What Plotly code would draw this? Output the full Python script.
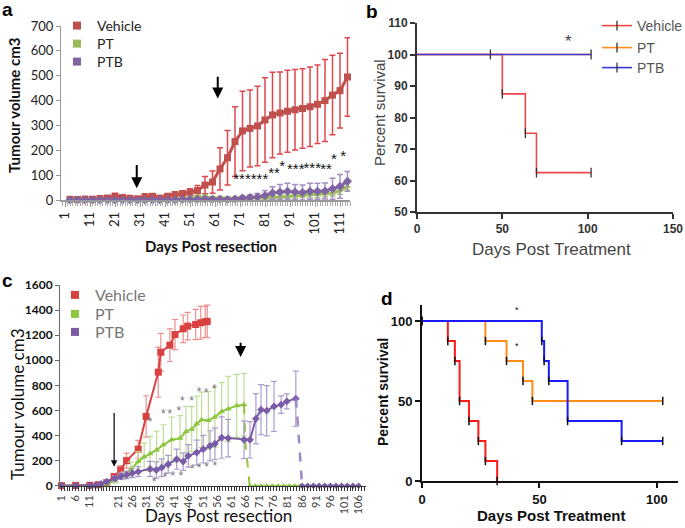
import plotly.graph_objects as go

W, H = 685, 528
def fx(px): return px / W
def fy(py): return 1 - py / H

# ---------------- Panel a data ----------------
a_days = [3, 6, 9, 12, 15, 18, 21, 24, 27, 30, 33, 36, 39, 42, 45, 48, 51, 54, 57, 60,
          63, 66, 69, 72, 75, 78, 81, 84, 87, 90, 93, 96, 99, 102, 105, 108, 111, 114]
a_vehicle = [3, 2, 4, 3, 6, 8, 16, 10, 7, 5, 14, 15, 8, 15, 22, 25, 30, 38, 60, 72,
             125, 170, 235, 278, 288, 298, 322, 342, 350, 357, 363, 368, 375, 385, 400, 422, 440, 495]
a_vehicle_err = [3, 3, 4, 4, 5, 6, 8, 6, 5, 4, 6, 6, 5, 8, 10, 12, 15, 20, 35, 45,
                 85, 110, 140, 160, 155, 160, 170, 172, 165, 165, 162, 160, 160, 158, 165, 160, 150, 158]
a_pt = [0, 0, 0, 0, 0, 0, 0, 0, 0, 0, 0, 0, 0, 0, 2, 5, 8, 12, 12, 8,
        8, 6, 5, 8, 8, 10, 8, 10, 12, 15, 18, 20, 22, 22, 25, 28, 38, 55]
a_pt_err = [1, 1, 1, 1, 1, 1, 1, 1, 1, 1, 1, 1, 1, 1, 3, 5, 6, 8, 8, 6,
            6, 5, 5, 6, 6, 8, 6, 8, 8, 10, 10, 10, 12, 12, 12, 12, 15, 15]
a_ptb = [0, 0, 0, 0, 0, 0, 0, 0, 0, 0, 0, 0, 0, 0, 0, 2, 3, 3, 4, 3,
         3, 2, 4, 8, 10, 12, 18, 28, 32, 35, 32, 30, 35, 35, 36, 45, 55, 75]
a_ptb_err = [1, 1, 1, 1, 1, 1, 1, 1, 1, 1, 1, 1, 1, 1, 1, 2, 3, 3, 4, 3,
             3, 3, 5, 8, 10, 14, 20, 25, 30, 32, 30, 30, 32, 32, 32, 42, 48, 40]
# significance marks (groups of asterisks) in panel a
a_star_text = ["******", "**", "*", "***", "***", "**", "*", "*", "*"]
a_star_x = [75.3, 84.6, 87.9, 93.3, 99.9, 105.4, 108.6, 112.3, 115.7]
a_star_y = [80, 103, 133, 119, 123, 118, 160, 173, 217]
a_arrow_x = [29.7, 62.1]
a_arrow_tail = [147, 502]
a_arrow_tip = [47, 408]
a_xticks = [1, 11, 21, 31, 41, 51, 61, 71, 81, 91, 101, 111]

# ---------------- Panel b data ----------------
b_vehicle_t = [0, 50, 63.5, 70, 102]
b_vehicle_s = [100, 87.5, 75, 62.5, 62.5]
b_pt_t = [0, 102]
b_pt_s = [100, 100]
b_ptb_t = [0, 102]
b_ptb_s = [100, 100]
b_vehicle_mark_t = [50, 63.5, 70, 102]
b_vehicle_mark_s = [87.5, 75, 62.5, 62.5]
b_ptb_mark_t = [43, 102]
b_ptb_mark_s = [100, 100]

# ---------------- Panel c data ----------------
c_vehicle_days = [1, 6, 11, 14, 17, 19.6, 21.9, 24, 28.1, 30.9, 35.2, 36.1, 39.3, 41.1,
                  44, 45.6, 48.4, 50.2, 51.8, 52.5]
c_vehicle = [0, 2, 3, 8, 25, 72, 126, 200, 291, 552, 905, 1064, 1120, 1205,
             1251, 1272, 1285, 1299, 1307, 1310]
c_vehicle_err = [0, 2, 3, 5, 10, 25, 35, 60, 70, 165, 200, 150, 130, 120,
                 110, 110, 120, 130, 125, 130]
c_pt_days = [1, 6, 11, 14, 17, 20, 22.8, 25.5, 28.1, 30.2, 32.3, 34.6, 37, 39.9, 42.9,
             45, 47, 48.8, 50.5, 52.9, 55.2, 57.6, 59.9, 62.9, 65.5]
c_pt = [0, 0, 0, 0, 15, 40, 78, 130, 192, 230, 254, 285, 326, 366, 379,
        432, 451, 494, 526, 520, 547, 592, 611, 638, 646]
c_pt_err = [0, 0, 0, 2, 10, 20, 30, 60, 80, 110, 140, 150, 160, 180, 180,
            200, 180, 220, 220, 230, 240, 230, 260, 250, 250]
c_pt_drop_days = [65.5, 66, 67.5]
c_pt_drop = [646, 340, 0]
c_pt_zero_days = [67.5, 69.5, 71.5, 73.5, 75.5, 77.5, 79.5, 81.5, 83.5, 85.5]
c_pt_zero = [0, 0, 0, 0, 0, 0, 0, 0, 0, 0]
c_ptb_days = [1, 6, 11, 13, 15, 17, 19.9, 22, 24, 26, 28.1, 32.3, 34.5, 36.4, 38.7, 41.7,
              44, 45.8, 48.8, 51.1, 53.5, 55.2, 57.6, 59.9, 65.5, 67.6, 69.7, 71.5, 73.5,
              76.1, 78.6, 80.6, 83.8]
c_ptb = [0, 0, 0, 3, 15, 32, 59, 75, 86, 100, 112, 134, 125, 144, 171, 211,
         192, 238, 264, 291, 318, 334, 384, 379, 366, 366, 534, 606, 598,
         632, 646, 672, 694]
c_ptb_err = [0, 0, 0, 3, 8, 12, 20, 25, 30, 35, 40, 60, 65, 70, 70, 80,
             70, 90, 100, 110, 120, 125, 165, 150, 150, 145, 200, 200, 200,
             200, 70, 60, 220]
c_ptb_drop_days = [83.8, 84.6, 86]
c_ptb_drop = [694, 470, 0]
c_ptb_zero_days = [86, 88, 90, 92, 94, 96, 98, 100, 102, 104, 106]
c_ptb_zero = [0, 0, 0, 0, 0, 0, 0, 0, 0, 0, 0]
c_star_hi_x = [32.3, 37, 39.3, 42.5, 43.7, 47, 49.6, 52.1, 55]
c_star_hi_y = [499, 560, 560, 584, 664, 664, 739, 734, 760]
c_star_lo_x = [33.7, 37.6, 40.3, 43.2, 47.2, 49.6, 52.3, 55.2]
c_star_lo_y = [19, 59, 72, 72, 126, 134, 139, 152]
c_xticks = [1, 6, 11, 21, 26, 31, 36, 41, 46, 51, 56, 61, 66, 71, 76, 81, 86, 91, 96, 101, 106]

# ---------------- Panel d data ----------------
d_vehicle_t = [0, 11, 14, 16, 20, 24, 27, 32]
d_vehicle_s = [100, 87.5, 75, 50, 37.5, 25, 12.5, 0]
d_pt_t = [0, 27, 36, 43, 47, 102.5]
d_pt_s = [100, 87.5, 75, 62.5, 50, 50]
d_ptb_t = [0, 51, 52, 54, 62, 85, 102.5]
d_ptb_s = [100, 87.5, 75, 62.5, 37.5, 25, 25]

series_names = ["Vehicle", "PT", "PTB"]

# ---------------- colours ----------------
RED_A, GREEN_A, PURPLE_A = "#C0504D", "#9BBB59", "#8064A2"
RED_AE, GREEN_AE, PURPLE_AE = "#E0474C", "#A9CB6E", "#A48FC4"
RED_C, GREEN_C, PURPLE_C = "#D8413F", "#8DC63F", "#7A5BA8"
RED_CE, GREEN_CE, PURPLE_CE = "#EE8F8F", "#BEDC95", "#AC9BD0"
RED_B, ORANGE_B, BLUE_B = "#F04848", "#FF8C1A", "#3A3AD8"

EXCEL = "Lato"
ARIAL = "Liberation Sans"

fig = go.Figure()

def err(arr, color, width=3, thick=1.5):
    return dict(type="data", array=arr, visible=True, color=color, thickness=thick, width=width)

# ---- Panel a traces
fig.add_trace(go.Scatter(x=a_days, y=a_vehicle, mode="lines+markers", xaxis="x", yaxis="y",
                         line=dict(color=RED_A, width=3), marker=dict(symbol="square", size=7, color=RED_A),
                         error_y=err(a_vehicle_err, RED_AE), showlegend=False, cliponaxis=False))
fig.add_trace(go.Scatter(x=a_days, y=a_pt, mode="lines+markers", xaxis="x", yaxis="y",
                         line=dict(color=GREEN_A, width=3), marker=dict(symbol="triangle-up", size=6, color=GREEN_A),
                         error_y=err(a_pt_err, GREEN_AE), showlegend=False, cliponaxis=False))
fig.add_trace(go.Scatter(x=a_days, y=a_ptb, mode="lines+markers", xaxis="x", yaxis="y",
                         line=dict(color=PURPLE_A, width=3), marker=dict(symbol="diamond", size=7, color=PURPLE_A),
                         error_y=err(a_ptb_err, PURPLE_AE), showlegend=False, cliponaxis=False))
fig.add_trace(go.Scatter(x=a_star_x, y=a_star_y, mode="text", text=a_star_text, xaxis="x", yaxis="y",
                         textfont=dict(family=ARIAL, size=15, color="#111"), textposition="middle center",
                         showlegend=False, cliponaxis=False, hoverinfo="skip"))

# ---- Panel b traces
fig.add_trace(go.Scatter(x=b_vehicle_t, y=b_vehicle_s, mode="lines", line_shape="hv", xaxis="x2", yaxis="y2",
                         line=dict(color=RED_B, width=1.6), showlegend=False))
fig.add_trace(go.Scatter(x=b_vehicle_mark_t, y=b_vehicle_mark_s, mode="markers", xaxis="x2", yaxis="y2",
                         marker=dict(symbol="line-ns", size=7, line=dict(color="#333", width=1.3)), showlegend=False))
fig.add_trace(go.Scatter(x=b_pt_t, y=b_pt_s, mode="lines", line_shape="hv", xaxis="x2", yaxis="y2",
                         line=dict(color=ORANGE_B, width=1.6), showlegend=False))
fig.add_trace(go.Scatter(x=b_ptb_t, y=b_ptb_s, mode="lines", line_shape="hv", xaxis="x2", yaxis="y2",
                         line=dict(color=BLUE_B, width=1.6), showlegend=False))
fig.add_trace(go.Scatter(x=b_ptb_mark_t, y=b_ptb_mark_s, mode="markers", xaxis="x2", yaxis="y2",
                         marker=dict(symbol="line-ns", size=7, line=dict(color="#333", width=1.3)), showlegend=False))

# ---- Panel c traces
fig.add_trace(go.Scatter(x=c_vehicle_days, y=c_vehicle, mode="lines+markers", xaxis="x3", yaxis="y3",
                         line=dict(color=RED_C, width=2), marker=dict(symbol="square", size=7, color=RED_C),
                         error_y=err(c_vehicle_err, RED_CE, 3, 1.2), showlegend=False, cliponaxis=False))
fig.add_trace(go.Scatter(x=c_pt_days, y=c_pt, mode="lines+markers", xaxis="x3", yaxis="y3",
                         line=dict(color=GREEN_C, width=2), marker=dict(symbol="triangle-up", size=6, color=GREEN_C),
                         error_y=err(c_pt_err, GREEN_CE, 3, 1.2), showlegend=False, cliponaxis=False))
fig.add_trace(go.Scatter(x=c_pt_drop_days, y=c_pt_drop, mode="lines", xaxis="x3", yaxis="y3",
                         line=dict(color=GREEN_C, width=2, dash="dash"), showlegend=False))
fig.add_trace(go.Scatter(x=c_pt_zero_days, y=c_pt_zero, mode="lines+markers", xaxis="x3", yaxis="y3",
                         line=dict(color=GREEN_C, width=2), marker=dict(symbol="triangle-up", size=5, color=GREEN_C),
                         showlegend=False, cliponaxis=False))
fig.add_trace(go.Scatter(x=c_ptb_days, y=c_ptb, mode="lines+markers", xaxis="x3", yaxis="y3",
                         line=dict(color=PURPLE_C, width=2), marker=dict(symbol="diamond", size=6, color=PURPLE_C),
                         error_y=err(c_ptb_err, PURPLE_CE, 3, 1.2), showlegend=False, cliponaxis=False))
fig.add_trace(go.Scatter(x=c_ptb_drop_days, y=c_ptb_drop, mode="lines", xaxis="x3", yaxis="y3",
                         line=dict(color="#9C88C8", width=2.5, dash="dash"), showlegend=False))
fig.add_trace(go.Scatter(x=c_ptb_zero_days, y=c_ptb_zero, mode="lines+markers", xaxis="x3", yaxis="y3",
                         line=dict(color=PURPLE_C, width=2), marker=dict(symbol="diamond", size=5, color=PURPLE_C),
                         showlegend=False, cliponaxis=False))
fig.add_trace(go.Scatter(x=c_star_hi_x + c_star_lo_x, y=c_star_hi_y + c_star_lo_y, mode="text",
                         text=["*"] * (len(c_star_hi_x) + len(c_star_lo_x)), xaxis="x3", yaxis="y3",
                         textfont=dict(family=ARIAL, size=12, color="#777"), showlegend=False,
                         cliponaxis=False, hoverinfo="skip"))

# ---- Panel d traces
for t, s, col in [(d_vehicle_t, d_vehicle_s, "#FF1A1A"), (d_pt_t, d_pt_s, "#FF8C1A"), (d_ptb_t, d_ptb_s, "#1A1AFF")]:
    fig.add_trace(go.Scatter(x=t, y=s, mode="lines+markers", line_shape="hv", xaxis="x4", yaxis="y4",
                             line=dict(color=col, width=2),
                             marker=dict(symbol="line-ns", size=6, line=dict(color="#111", width=1.5)),
                             showlegend=False, cliponaxis=False))

# ---- legend entries (one small legend per entry so each sits where the reference has it)
legends = {}
a_leg_y = [26, 44, 62]
for i, (name, col) in enumerate(zip(series_names, [RED_A, GREEN_A, PURPLE_A])):
    lid = "legend" if i == 0 else f"legend{i + 1}"
    fig.add_trace(go.Scatter(x=[None], y=[None], mode="markers", xaxis="x", yaxis="y", name=name,
                             marker=dict(symbol="square", size=8, color=col), legend=lid))
    legends[lid] = dict(x=fx(57), y=fy(a_leg_y[i]), xanchor="left", yanchor="middle",
                        bgcolor="rgba(0,0,0,0)", font=dict(family=EXCEL, size=14, color="#222"))
b_leg_y = [26, 48, 68]
for i, (name, col) in enumerate(zip(series_names, [RED_B, ORANGE_B, BLUE_B])):
    lid = f"legend{i + 4}"
    fig.add_trace(go.Scatter(x=[None], y=[None], mode="lines+markers", xaxis="x2", yaxis="y2", name=name,
                             line=dict(color=col, width=1.6),
                             marker=dict(symbol="line-ns", size=7, line=dict(color="#333", width=1.3)),
                             legend=lid))
    legends[lid] = dict(x=fx(597), y=fy(b_leg_y[i]), xanchor="left", yanchor="middle",
                        bgcolor="rgba(0,0,0,0)", font=dict(family=ARIAL, size=14, color="#555"))
c_leg_y = [295, 314, 332]
for i, (name, col) in enumerate(zip(series_names, [RED_C, GREEN_C, PURPLE_C])):
    lid = f"legend{i + 7}"
    fig.add_trace(go.Scatter(x=[None], y=[None], mode="markers", xaxis="x3", yaxis="y3", name=name,
                             marker=dict(symbol="square", size=8, color=col), legend=lid))
    legends[lid] = dict(x=fx(55), y=fy(c_leg_y[i]), xanchor="left", yanchor="middle",
                        bgcolor="rgba(0,0,0,0)", font=dict(family=EXCEL, size=16, color="#777"))

# ---------------- axes ----------------
def tf(fam, size, color="#222", weight="normal"):
    return dict(family=fam, size=size, color=color, weight=weight)

layout = dict(
    width=W, height=H, margin=dict(l=0, r=0, t=0, b=0, autoexpand=False),
    paper_bgcolor="white", plot_bgcolor="white",
    # panel a
    xaxis=dict(domain=[fx(61), fx(350)], range=[-0.6, 115], anchor="y",
               tickmode="array", tickvals=a_xticks, tickangle=-90, ticks="outside", ticklen=5,
               tickcolor="#999", showline=True, linecolor="#999", linewidth=1.5,
               showgrid=False, zeroline=False, tickfont=tf(EXCEL, 13),
               minor=dict(tickmode="linear", tick0=0, dtick=1, ticks="outside", ticklen=4, tickcolor="#aaa")),
    yaxis=dict(domain=[fy(200), fy(26)], range=[0, 700], anchor="x", dtick=100,
               ticks="outside", ticklen=4, tickcolor="#999", showline=True, linecolor="#999",
               linewidth=1, showgrid=False, zeroline=False, tickfont=tf(EXCEL, 13)),
    # panel b
    xaxis2=dict(domain=[fx(417), fx(673)], range=[0, 150], anchor="y2", dtick=50,
                ticks="outside", ticklen=5, tickwidth=2, tickcolor="#333", showline=True,
                linecolor="#333", linewidth=2, showgrid=False, zeroline=False,
                tickfont=tf(ARIAL, 12, "#333", "bold")),
    yaxis2=dict(domain=[fy(212), fy(23)], range=[50, 110], anchor="x2", dtick=10,
                ticks="outside", ticklen=5, tickwidth=2, tickcolor="#333", showline=True,
                linecolor="#333", linewidth=2, showgrid=False, zeroline=False,
                tickfont=tf(ARIAL, 12, "#333", "bold")),
    # panel c
    xaxis3=dict(domain=[fx(60), fx(366)], range=[0.47, 108.6], anchor="y3",
                tickmode="array", tickvals=c_xticks, tickangle=-90, ticks="outside", ticklen=4,
                tickcolor="#333", showline=True, linecolor="#333", linewidth=1.2,
                showgrid=False, zeroline=False, tickfont=tf(EXCEL, 11, "#444"),
                minor=dict(tickmode="linear", tick0=1, dtick=1, ticks="outside", ticklen=4, tickcolor="#333")),
    yaxis3=dict(domain=[fy(485.7), fy(285)], range=[0, 1600], anchor="x3", dtick=200,
                ticks="outside", ticklen=4, tickcolor="#666", showline=True, linecolor="#666",
                linewidth=1, showgrid=False, zeroline=False, tickfont=tf(EXCEL, 12, "#111", "bold")),
    # panel d
    xaxis4=dict(domain=[fx(422), fx(678)], range=[0, 109], anchor="y4", tickvals=[0, 50, 100],
                ticks="outside", ticklen=5, tickwidth=2, tickcolor="#111", showline=True,
                linecolor="#111", linewidth=2, showgrid=False, zeroline=False,
                tickfont=tf(ARIAL, 13, "#111", "bold")),
    yaxis4=dict(domain=[fy(481), fy(305)], range=[0, 110], anchor="x4", tickvals=[0, 50, 100],
                ticks="outside", ticklen=5, tickwidth=2, tickcolor="#111", showline=True,
                linecolor="#111", linewidth=2, showgrid=False, zeroline=False,
                tickfont=tf(ARIAL, 13, "#111", "bold")),
)
layout.update(legends)
fig.update_layout(**layout)

# ---------------- annotations ----------------
ann = []
def label(txt, px, py, size, fam=ARIAL, color="#000", weight="bold", angle=0):
    ann.append(dict(text=txt, x=fx(px), y=fy(py), xref="paper", yref="paper", showarrow=False,
                    xanchor="center", yanchor="middle", textangle=angle,
                    font=dict(family=fam, size=size, color=color, weight=weight)))

label("a", 8, 10, 19)
label("b", 372, 11, 19)
label("c", 8, 280, 19)
label("d", 387, 298, 19)
label("Tumour volume cm3", 14, 106, 15, EXCEL, "#111", "bold", -90)
label("Days Post resection", 211, 246, 15, EXCEL, "#111", "bold")
label("Percent survival", 379, 112, 15, ARIAL, "#444", "normal", -90)
label("Days Post Treatment", 551, 249, 17, ARIAL, "#444", "normal")
label("Tumour volume cm3", 17, 404, 17, EXCEL, "#111", "normal", -90)
label("Days Post resection", 218, 515, 17, EXCEL, "#111", "normal")
label("Percent survival", 383, 392, 14, ARIAL, "#111", "bold", -90)
label("Days Post Treatment", 551, 515, 15, ARIAL, "#111", "bold")

# asterisks in b and d
ann.append(dict(text="*", x=89, y=104, xref="x2", yref="y2", showarrow=False,
                font=dict(family=ARIAL, size=17, color="#444")))
for yy in [106.9, 84.4]:
    ann.append(dict(text="*", x=40.3, y=yy, xref="x4", yref="y4", showarrow=False,
                    font=dict(family=ARIAL, size=9, color="#111")))

# arrows a
for xx, t0, t1 in zip(a_arrow_x, a_arrow_tail, a_arrow_tip):
    ann.append(dict(x=xx, y=t1, ax=xx, ay=t0, xref="x", yref="y", axref="x", ayref="y",
                    showarrow=True, arrowhead=2, arrowsize=1.1, arrowwidth=2, arrowcolor="#000", text=""))
# arrows c
ann.append(dict(x=19.6, y=152, ax=19.6, ay=592, xref="x3", yref="y3", axref="x3", ayref="y3",
                showarrow=True, arrowhead=2, arrowsize=1, arrowwidth=1.3, arrowcolor="#111", text=""))
ann.append(dict(x=64.3, y=1027, ax=64.3, ay=1152, xref="x3", yref="y3", axref="x3", ayref="y3",
                showarrow=True, arrowhead=2, arrowsize=1.1, arrowwidth=2, arrowcolor="#000", text=""))

fig.update_layout(annotations=ann)
fig.write_html("out.html", config={"displayModeBar": False},
               post_script="document.body.style.margin='0';")
